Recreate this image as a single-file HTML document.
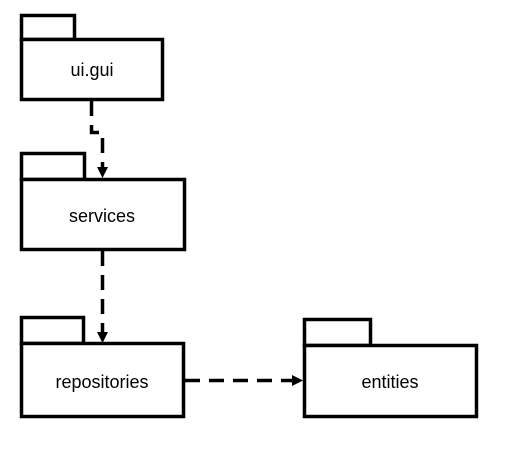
<!DOCTYPE html>
<html><head><style>body{margin:0;background:#fff}</style></head><body>
<svg width="528" height="449" xmlns="http://www.w3.org/2000/svg" style="display:block">
<g fill="#fff" stroke="#000" stroke-width="3.5">
<rect x="21.5" y="15.5" width="53" height="24"/>
<rect x="21.5" y="39.5" width="141" height="60"/>
<rect x="21.5" y="153.5" width="63" height="26"/>
<rect x="21.5" y="179.5" width="163" height="70"/>
<rect x="21.5" y="317.5" width="62" height="26"/>
<rect x="21.5" y="343.5" width="162" height="73"/>
<rect x="304.5" y="319.5" width="66" height="26"/>
<rect x="304.5" y="345.5" width="172" height="71"/>
</g>
<g fill="none" stroke="#000" stroke-width="3.5" stroke-dasharray="15 9">
<path d="M91.5 101 V132.5 H102.5 V168"/>
<path d="M102.5 251 V334"/>
<path d="M185 380.5 H294"/>
</g>
<g fill="#000">
<path d="M97 167 L108 167 L102.5 178 Z"/>
<path d="M97 332 L108 332 L102.5 343 Z"/>
<path d="M292 375 L292 386 L303 380.5 Z"/>
</g>
<g font-family="Liberation Sans, sans-serif" font-size="18" text-anchor="middle">
<text x="92" y="76">ui.gui</text>
<text x="102" y="222">services</text>
<text x="102" y="388">repositories</text>
<text x="390" y="388">entities</text>
</g>
</svg>
</body></html>
